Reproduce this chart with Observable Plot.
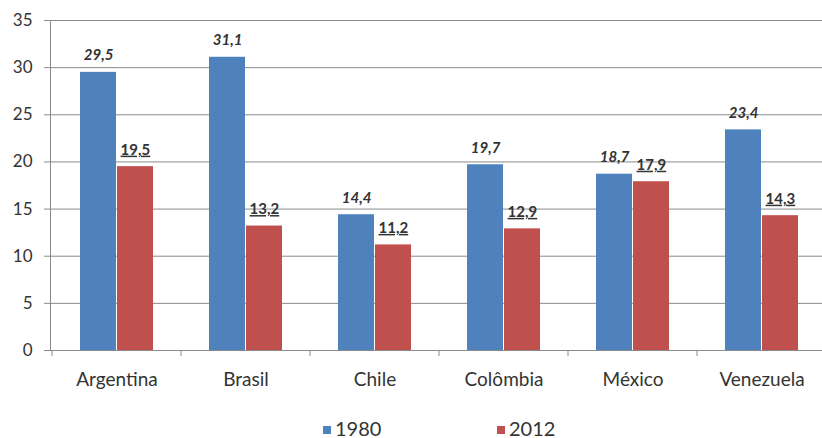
<!DOCTYPE html>
<html>
<head>
<meta charset="utf-8">
<script src="https://cdn.jsdelivr.net/npm/d3@7"></script>
<script src="https://cdn.jsdelivr.net/npm/@observablehq/plot@0.6"></script>
<style>
  body { margin: 0; background: #fff; font-family: Lato, "Open Sans", sans-serif; }
  #chart svg { display: block; }
  .legend { display: flex; box-sizing: border-box; padding-left: 323px; padding-top: 5px; height: 26px; align-items: center; font-size: 20px; line-height: 20px; color: #333; }
  .legend .item { display: flex; align-items: center; width: 174px; }
  .legend .swatch { width: 8px; height: 8px; margin-right: 4px; margin-top: 4px; }
</style>
</head>
<body>
<div id="chart"></div>
<div class="legend" id="legend"></div>
<script>
// Countries and the two survey years
const countries = ["Argentina", "Brasil", "Chile", "Colômbia", "México", "Venezuela"];
const values1980 = [29.5, 31.1, 14.4, 19.7, 18.7, 23.4];
const values2012 = [19.5, 13.2, 11.2, 12.9, 17.9, 14.3];
const yTicks = [0, 5, 10, 15, 20, 25, 30, 35];
const series = ["1980", "2012"];
const colors = ["#4F81BD", "#C0504D"];

const rows1980 = countries.map((c, i) => ({country: c, value: values1980[i]}));
const rows2012 = countries.map((c, i) => ({country: c, value: values2012[i]}));
const fmt = v => d3.format(".1f")(v).replace(".", ",");

const gray = "#8a8a8a";
const ink = "#333";

const plot = Plot.plot({
  width: 822,
  height: 412,
  marginLeft: 50,
  marginRight: 0,
  marginTop: 20,
  marginBottom: 62,
  style: {fontFamily: "Lato, 'Open Sans', sans-serif", background: "#fff"},
  x: {domain: countries, range: [50, 828], padding: 0},
  y: {domain: [0, 35]},
  marks: [
    Plot.ruleY(yTicks, {stroke: gray, strokeWidth: 1}),
    Plot.frame({anchor: "left", stroke: gray}),
    Plot.axisY({ticks: yTicks, tickSize: 6, tickPadding: 12, stroke: gray, fill: ink, fontSize: 17, label: null}),
    Plot.axisX({tickSize: 0, tickPadding: 22, fill: ink, fontSize: 19, label: null}),
    Plot.barY(rows1980, {x: "country", y: "value", fill: colors[0], insetLeft: 28, insetRight: 65}),
    Plot.barY(rows2012, {x: "country", y: "value", fill: colors[1], insetLeft: 65, insetRight: 28}),
    Plot.text(rows1980, {x: "country", y: "value", text: d => fmt(d.value), dx: -18.4, dy: -12,
      lineAnchor: "bottom", fontWeight: "bold", fontStyle: "italic", fontSize: 15, fill: ink}),
    Plot.text(rows2012, {x: "country", y: "value", text: d => fmt(d.value), dx: 18.4, dy: -12,
      lineAnchor: "bottom", fontWeight: "bold", fontSize: 15, fill: ink})
  ]
});

const svg = d3.select(plot);

// The 2012 value labels are underlined
svg.selectAll('g[aria-label="text"]').filter((d, i) => i === 1)
  .selectAll("text").style("text-decoration", "underline");

// Category boundary ticks below the baseline, placed with the plot's own scales
const xs = plot.scale("x");
const ys = plot.scale("y");
const y0 = ys.apply(0);
svg.append("g")
  .attr("stroke", gray)
  .selectAll("line")
  .data(countries)
  .join("line")
  .attr("x1", d => xs.apply(d) - (xs.step - xs.bandwidth) / 2)
  .attr("x2", d => xs.apply(d) - (xs.step - xs.bandwidth) / 2)
  .attr("y1", y0)
  .attr("y2", y0 + 6);

document.getElementById("chart").appendChild(plot);

const legend = d3.select("#legend");
const items = legend.selectAll(".item").data(series).join("div").attr("class", "item");
items.append("div").attr("class", "swatch").style("background", (d, i) => colors[i]);
items.append("span").text(d => d);
</script>
</body>
</html>
